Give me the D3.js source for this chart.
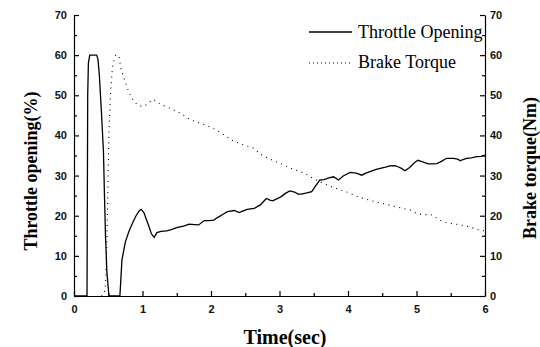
<!DOCTYPE html>
<html>
<head>
<meta charset="utf-8">
<script src="https://cdn.jsdelivr.net/npm/d3@7"></script>
<style>
  body { margin: 0; background: #fff; }
  svg { display: block; }
  .tick text { font-family: "Liberation Sans", Arial, sans-serif; font-size: 11px; font-weight: bold; fill: #111; }
  .axis path, .axis line { stroke: #000; stroke-width: 1.2; }
</style>
</head>
<body>
<svg width="540" height="347"></svg>
<script>
// Throttle opening (%) vs time (sec)
const throttleTime = [0, 0.19, 0.195, 0.2, 0.21, 0.23, 0.33, 0.35, 0.37, 0.4, 0.43, 0.445, 0.46, 0.48, 0.51,
  0.67, 0.7, 0.75, 0.8, 0.85, 0.9, 0.95, 0.98, 1.02, 1.08, 1.13, 1.17, 1.21, 1.27, 1.35, 1.41, 1.51, 1.6,
  1.68, 1.76, 1.82, 1.9, 1.97, 2.04, 2.1, 2.17, 2.24, 2.34, 2.41, 2.47, 2.53, 2.63, 2.72, 2.78, 2.81, 2.86,
  2.9, 2.96, 3.02, 3.08, 3.15, 3.22, 3.27, 3.32, 3.4, 3.47, 3.53, 3.59, 3.65, 3.72, 3.79, 3.86, 3.93, 4.03,
  4.12, 4.2, 4.26, 4.32, 4.4, 4.47, 4.55, 4.61, 4.68, 4.73, 4.78, 4.83, 4.9, 4.97, 5.02, 5.08, 5.17, 5.24,
  5.3, 5.37, 5.44, 5.54, 5.6, 5.64, 5.68, 5.73, 5.8, 5.88, 5.94, 6.0];
const throttle = [0, 0, 25, 50, 58, 60, 60, 59, 55, 46, 36, 25, 15, 6, 0,
  0, 9, 13.5, 16, 18, 19.8, 21.2, 21.6, 20.8, 18, 15.5, 14.6, 15.8, 16.1, 16.2, 16.5, 17.1, 17.4,
  17.9, 17.8, 17.7, 18.8, 18.8, 18.9, 19.6, 20.3, 21, 21.3, 20.8, 21.2, 21.6, 21.8, 22.7, 23.8, 24.3, 23.9,
  23.7, 24.2, 24.7, 25.5, 26.2, 25.9, 25.4, 25.4, 25.7, 26, 27.5, 28.9, 29, 29.4, 29.7, 28.9, 29.9, 30.8,
  30.6, 30.1, 30.6, 31, 31.5, 31.8, 32.1, 32.4, 32.5, 32.2, 31.8, 31.2, 32, 33.2, 33.8, 33.5, 32.9, 32.9,
  33, 33.6, 34.3, 34.3, 34.1, 33.7, 34, 34.3, 34.4, 34.7, 34.8, 35.1];

// Brake torque (Nm) vs time (sec)
const brakeTime = [0.4, 0.44, 0.46, 0.475, 0.49, 0.5, 0.51, 0.535, 0.56, 0.59, 0.61, 0.64, 0.66, 0.68, 0.72,
  0.78, 0.83, 0.876, 0.94, 1.0, 1.05, 1.09, 1.16, 1.22, 1.29, 1.4, 1.51, 1.6, 1.68, 1.76, 1.85, 1.93, 2.0,
  2.07, 2.14, 2.22, 2.29, 2.36, 2.43, 2.53, 2.63, 2.7, 2.8, 2.9, 3.02, 3.1, 3.2, 3.28, 3.37, 3.43, 3.49,
  3.56, 3.64, 3.73, 3.83, 3.93, 4.03, 4.12, 4.22, 4.35, 4.47, 4.59, 4.71, 4.81, 4.91, 5.0, 5.1, 5.16, 5.22,
  5.28, 5.34, 5.42, 5.49, 5.61, 5.73, 5.83, 5.93, 6.0];
const brake = [0, 0.5, 3, 10, 22, 32, 41, 51, 56.7, 59.3, 60, 60, 59.5, 57, 54.8,
  51.7, 49.8, 48.4, 47.5, 47.2, 47.6, 48.2, 49, 48.2, 47.6, 46.8, 45.9, 45, 44.1, 43.5, 43, 42.5, 42,
  41.4, 40.7, 39.8, 38.9, 38.4, 37.9, 37.3, 36.8, 35.6, 34.6, 33.8, 33, 32.3, 31.6, 31.1, 30.6, 29.9, 29.3,
  28.7, 28.1, 27.4, 26.8, 26.2, 25.6, 24.9, 24.3, 23.7, 23.2, 22.7, 22.2, 21.8, 21.4, 20.6, 20.2, 20.3, 20.2,
  19.6, 18.9, 18.4, 18.1, 17.8, 17.4, 16.9, 16.4, 16.2];

const xTicks = [0, 1, 2, 3, 4, 5, 6];
const yTicks = [0, 10, 20, 30, 40, 50, 60, 70];
const legendNames = ["Throttle Opening", "Brake Torque"];

const svg = d3.select("svg");
const plotLeft = 74, plotRight = 485, plotTop = 15, plotBottom = 296;

const x = d3.scaleLinear().domain([0, 6]).range([plotLeft, plotRight]);
const yL = d3.scaleLinear().domain([0, 70]).range([plotBottom, plotTop]);
const yR = d3.scaleLinear().domain([0, 70]).range([plotBottom, plotTop]);

// minor ticks first
svg.append("g").attr("class", "axis")
  .attr("transform", `translate(${plotLeft},0)`)
  .call(d3.axisLeft(yL).tickValues(d3.range(5, 70, 10)).tickSize(-3).tickFormat(""))
  .select(".domain").remove();
svg.append("g").attr("class", "axis")
  .attr("transform", `translate(${plotRight},0)`)
  .call(d3.axisRight(yR).tickValues(d3.range(5, 70, 10)).tickSize(-3).tickFormat(""))
  .select(".domain").remove();
svg.append("g").attr("class", "axis")
  .attr("transform", `translate(0,${plotBottom})`)
  .call(d3.axisBottom(x).tickValues(d3.range(0.5, 6, 1)).tickSize(-3).tickFormat(""))
  .select(".domain").remove();

// main axes
svg.append("g").attr("class", "axis")
  .attr("transform", `translate(${plotLeft},0)`)
  .call(d3.axisLeft(yL).tickValues(yTicks).tickFormat(d3.format("d")).tickSizeInner(-5).tickSizeOuter(0).tickPadding(7));
svg.append("g").attr("class", "axis")
  .attr("transform", `translate(${plotRight},0)`)
  .call(d3.axisRight(yR).tickValues(yTicks).tickFormat(d3.format("d")).tickSizeInner(-5).tickSizeOuter(0).tickPadding(5));
svg.append("g").attr("class", "axis")
  .attr("transform", `translate(0,${plotBottom})`)
  .call(d3.axisBottom(x).tickValues(xTicks).tickFormat(d3.format("d")).tickSizeInner(-5).tickSizeOuter(0).tickPadding(9));

// series
const line = d3.line().x(d => x(d[0]));

svg.append("path")
  .datum(d3.zip(throttleTime, throttle))
  .attr("fill", "none")
  .attr("stroke", "#000")
  .attr("stroke-width", 1.3)
  .attr("d", line.y(d => yL(d[1])));

svg.append("path")
  .datum(d3.zip(brakeTime, brake))
  .attr("fill", "none")
  .attr("stroke", "#000")
  .attr("stroke-width", 1.1)
  .attr("stroke-dasharray", "1,4.5")
  .attr("d", line.y(d => yR(d[1])));

// legend
const lg = svg.append("g").attr("font-family", "'Liberation Serif', 'Times New Roman', serif").attr("font-size", 18);
lg.append("line").attr("x1", 309).attr("x2", 352).attr("y1", 32).attr("y2", 32)
  .attr("stroke", "#000").attr("stroke-width", 1.3);
lg.append("text").attr("x", 358).attr("y", 38).text(legendNames[0]);
lg.append("line").attr("x1", 309).attr("x2", 352).attr("y1", 63).attr("y2", 63)
  .attr("stroke", "#000").attr("stroke-width", 1.1).attr("stroke-dasharray", "1,3");
lg.append("text").attr("x", 358).attr("y", 68).text(legendNames[1]);

// axis titles
const titleFont = "'Liberation Serif', 'Times New Roman', serif";
svg.append("text")
  .attr("transform", "translate(37,171) rotate(-90)")
  .attr("text-anchor", "middle")
  .attr("font-family", titleFont).attr("font-size", 18).attr("font-weight", "bold")
  .text("Throttle opening(%)");
svg.append("text")
  .attr("transform", "translate(536,168) rotate(-90)")
  .attr("text-anchor", "middle")
  .attr("font-family", titleFont).attr("font-size", 18).attr("font-weight", "bold")
  .text("Brake torque(Nm)");
svg.append("text")
  .attr("x", 285).attr("y", 344)
  .attr("text-anchor", "middle")
  .attr("font-family", titleFont).attr("font-size", 20).attr("font-weight", "bold")
  .text("Time(sec)");
</script>
</body>
</html>
